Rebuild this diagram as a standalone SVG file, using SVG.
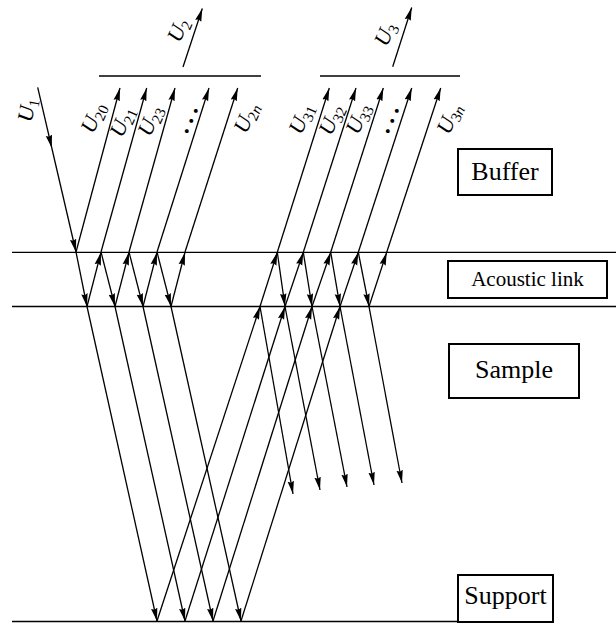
<svg xmlns="http://www.w3.org/2000/svg" width="616" height="625" viewBox="0 0 616 625">
<defs>
<marker id="ah" markerUnits="userSpaceOnUse" markerWidth="15" markerHeight="8" refX="13" refY="4" orient="auto">
<path d="M0,0.8 L13,4 L0,7.2 L1.5,4 z" fill="#000"/>
</marker>
<style>
.ray{stroke:#000;stroke-width:1.3;fill:none;marker-end:url(#ah)}
.ln{stroke:#000;stroke-width:1.3;fill:none}
.box{fill:#fff;stroke:#000;stroke-width:2}
.lbl{font-family:"Liberation Serif","Times New Roman",serif;font-style:italic;font-size:22px;fill:#000}
.sub{font-size:15px}
.up{font-style:normal}
.dots{font-family:"Liberation Serif","Times New Roman",serif;font-size:24px;font-weight:bold;letter-spacing:5px;fill:#000}
.bt{font-family:"Liberation Serif","Times New Roman",serif;font-size:26px;fill:#000;text-anchor:middle}
</style>
</defs>
<rect width="616" height="625" fill="#fff"/>

<g id="interfaces">
<line class="ln" x1="12" y1="252.3" x2="616" y2="252.3"/>
<line class="ln" x1="12" y1="306.5" x2="616" y2="306.5"/>
<line class="ln" x1="12" y1="621.5" x2="553" y2="621.5"/>
<line class="ln" x1="99" y1="76" x2="261" y2="76"/>
<line class="ln" x1="320" y1="76" x2="460" y2="76"/>
</g>

<g id="connectors">
<line class="ray" x1="37.7" y1="87.3" x2="51.8" y2="148"/>
<line class="ray" x1="51.8" y1="148" x2="76" y2="252"/>
<line class="ray" x1="76" y1="252" x2="120" y2="88"/>
<line class="ray" x1="101" y1="252" x2="146.7" y2="88"/>
<line class="ray" x1="129" y1="252" x2="175" y2="88"/>
<line class="ray" x1="157" y1="252" x2="209" y2="88"/>
<line class="ray" x1="185" y1="252" x2="237.7" y2="88"/>
<line class="ray" x1="76" y1="252" x2="87" y2="306.5"/>
<line class="ray" x1="87" y1="306.5" x2="101" y2="252.3"/>
<line class="ray" x1="101" y1="252" x2="115" y2="306.5"/>
<line class="ray" x1="115" y1="306.5" x2="129" y2="252.3"/>
<line class="ray" x1="129" y1="252" x2="143" y2="306.5"/>
<line class="ray" x1="143" y1="306.5" x2="157" y2="252.3"/>
<line class="ray" x1="157" y1="252" x2="171" y2="306.5"/>
<line class="ray" x1="171" y1="306.5" x2="185" y2="252.3"/>
<line class="ray" x1="87" y1="306.5" x2="157" y2="621"/>
<line class="ray" x1="115" y1="306.5" x2="185" y2="621"/>
<line class="ray" x1="143" y1="306.5" x2="213" y2="621"/>
<line class="ray" x1="171" y1="306.5" x2="241" y2="621"/>
<line class="ray" x1="157" y1="621" x2="260" y2="306.5"/>
<line class="ray" x1="185" y1="621" x2="285" y2="306.5"/>
<line class="ray" x1="213" y1="621" x2="312" y2="306.5"/>
<line class="ray" x1="241" y1="621" x2="340" y2="306.5"/>
<line class="ray" x1="260" y1="306.5" x2="277.3" y2="252.3"/>
<line class="ray" x1="277.3" y1="252.3" x2="285" y2="306.5"/>
<line class="ray" x1="285" y1="306.5" x2="303.3" y2="252.3"/>
<line class="ray" x1="303.3" y1="252.3" x2="312" y2="306.5"/>
<line class="ray" x1="312" y1="306.5" x2="330.7" y2="252.3"/>
<line class="ray" x1="330.7" y1="252.3" x2="340" y2="306.5"/>
<line class="ray" x1="340" y1="306.5" x2="358.3" y2="252.3"/>
<line class="ray" x1="358.3" y1="252.3" x2="369" y2="306.5"/>
<line class="ray" x1="369" y1="306.5" x2="386.7" y2="252.3"/>
<line class="ray" x1="277.3" y1="252.3" x2="329.3" y2="88"/>
<line class="ray" x1="303.3" y1="252.3" x2="356" y2="88"/>
<line class="ray" x1="330.7" y1="252.3" x2="383.3" y2="88"/>
<line class="ray" x1="358.3" y1="252.3" x2="411.7" y2="88"/>
<line class="ray" x1="386.7" y1="252.3" x2="440.7" y2="88"/>
<line class="ray" x1="260" y1="306.5" x2="293" y2="494"/>
<line class="ray" x1="285" y1="306.5" x2="320" y2="490"/>
<line class="ray" x1="312" y1="306.5" x2="347" y2="487"/>
<line class="ray" x1="340" y1="306.5" x2="374" y2="485"/>
<line class="ray" x1="369" y1="306.5" x2="402" y2="483"/>
<line class="ray" x1="183" y1="67" x2="202.3" y2="8.5"/>
<line class="ray" x1="392.7" y1="66.7" x2="411.7" y2="7.5"/>
</g>

<g id="labels">
<text class="lbl" transform="translate(27,110) rotate(-80)" text-anchor="middle" y="7">U<tspan class="sub up" dy="4">1</tspan></text>
<text class="lbl" transform="translate(178,30) rotate(-66)" text-anchor="middle" y="7">U<tspan class="sub up" dy="4">2</tspan></text>
<text class="lbl" transform="translate(385,34) rotate(-66)" text-anchor="middle" y="7">U<tspan class="sub up" dy="4">3</tspan></text>
<text class="lbl" transform="translate(94,118) rotate(-66)" text-anchor="middle" y="6">U<tspan class="sub up" dy="4">20</tspan></text>
<text class="lbl" transform="translate(123,122) rotate(-66)" text-anchor="middle" y="6">U<tspan class="sub up" dy="4">21</tspan></text>
<text class="lbl" transform="translate(151,121) rotate(-66)" text-anchor="middle" y="6">U<tspan class="sub up" dy="4">23</tspan></text>
<text class="dots" transform="translate(189,120) rotate(-66)" x="2.5" text-anchor="middle" y="4">...</text>
<text class="lbl" transform="translate(247,118) rotate(-66)" text-anchor="middle" y="6">U<tspan class="sub" dy="4"><tspan class="up">2</tspan>n</tspan></text>
<text class="lbl" transform="translate(302,119) rotate(-66)" text-anchor="middle" y="6">U<tspan class="sub up" dy="4">31</tspan></text>
<text class="lbl" transform="translate(332,120) rotate(-66)" text-anchor="middle" y="6">U<tspan class="sub up" dy="4">32</tspan></text>
<text class="lbl" transform="translate(359,119) rotate(-66)" text-anchor="middle" y="6">U<tspan class="sub up" dy="4">33</tspan></text>
<text class="dots" transform="translate(390,120) rotate(-66)" x="2.5" text-anchor="middle" y="4">...</text>
<text class="lbl" transform="translate(450,119) rotate(-66)" text-anchor="middle" y="6">U<tspan class="sub" dy="4"><tspan class="up">3</tspan>n</tspan></text>
</g>

<g id="buffer">
<rect class="box" x="458" y="149" width="94" height="46"/>
<text class="bt" x="505" y="180">Buffer</text>
</g>
<g id="acoustic-link">
<rect class="box" x="448" y="261" width="159" height="37"/>
<text class="bt" x="527.5" y="286" style="font-size:21px">Acoustic link</text>
</g>
<g id="sample">
<rect class="box" x="449" y="344" width="130" height="54"/>
<text class="bt" x="514" y="378">Sample</text>
</g>
<g id="support">
<rect class="box" x="458" y="575" width="95" height="47"/>
<text class="bt" x="505.5" y="604">Support</text>
</g>
</svg>
